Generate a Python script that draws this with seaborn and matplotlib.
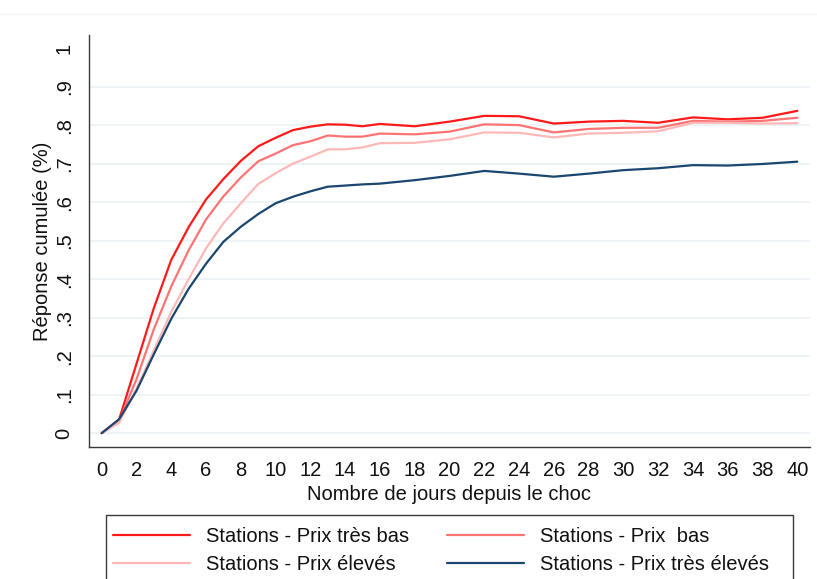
import matplotlib
matplotlib.use("Agg")
import matplotlib.pyplot as plt
from matplotlib.lines import Line2D
from matplotlib.patches import Rectangle
import pandas as pd
import seaborn as sns

# Days after the shock (daily up to day 16, then every two days)
jours = list(range(0, 17)) + list(range(18, 41, 2))

prix_tres_bas = [0.000, 0.035, 0.180, 0.325, 0.450, 0.535, 0.607, 0.660, 0.707,
                 0.745, 0.767, 0.787, 0.796, 0.802, 0.801, 0.797, 0.803,
                 0.797, 0.809, 0.824, 0.823, 0.804, 0.809, 0.811, 0.806,
                 0.820, 0.815, 0.819, 0.837]
prix_bas = [0.000, 0.030, 0.140, 0.270, 0.381, 0.475, 0.555, 0.615, 0.664,
            0.706, 0.726, 0.748, 0.758, 0.773, 0.770, 0.770, 0.778,
            0.776, 0.783, 0.802, 0.800, 0.781, 0.790, 0.793, 0.793,
            0.811, 0.809, 0.811, 0.819]
prix_eleves = [0.000, 0.027, 0.115, 0.215, 0.315, 0.400, 0.480, 0.545, 0.597,
               0.647, 0.675, 0.700, 0.718, 0.737, 0.737, 0.742, 0.753,
               0.754, 0.763, 0.781, 0.780, 0.768, 0.778, 0.780, 0.784,
               0.806, 0.806, 0.804, 0.805]
prix_tres_eleves = [0.000, 0.036, 0.110, 0.205, 0.297, 0.375, 0.440, 0.497, 0.536,
                    0.569, 0.597, 0.614, 0.628, 0.640, 0.643, 0.646, 0.648,
                    0.657, 0.668, 0.681, 0.674, 0.666, 0.674, 0.683, 0.688,
                    0.696, 0.695, 0.699, 0.705]

series = ["Stations - Prix très bas", "Stations - Prix  bas",
          "Stations - Prix élevés", "Stations - Prix très élevés"]
couleurs = ["#ff1a1a", "#ff7373", "#ffb8b8", "#1a476f"]

y_ticks = [0, 0.1, 0.2, 0.3, 0.4, 0.5, 0.6, 0.7, 0.8, 0.9, 1.0]
y_labels = ["0", ".1", ".2", ".3", ".4", ".5", ".6", ".7", ".8", ".9", "1"]
x_ticks = list(range(0, 41, 2))

df = pd.DataFrame({
    "jour": jours * 4,
    "reponse": prix_tres_bas + prix_bas + prix_eleves + prix_tres_eleves,
    "serie": sum([[s] * len(jours) for s in series], []),
})

sns.set_theme(style="white")
plt.rcParams["font.family"] = ["Liberation Sans", "DejaVu Sans"]
FS = 14.5
INK = "#111111"
AXIS = "#3a3a3a"

fig = plt.figure(figsize=(8.17, 5.79), dpi=100)
ax = fig.add_axes([89 / 817, 1 - 447 / 579, (810 - 89) / 817, (447 - 35) / 579])

# horizontal grid lines
for v in y_ticks[:-1]:
    ax.axhline(v, color="#eaf1f3", lw=1.1, zorder=0)

sns.lineplot(data=df, x="jour", y="reponse", hue="serie", hue_order=series,
             palette=dict(zip(series, couleurs)), linewidth=1.6, ax=ax,
             legend=False, zorder=3)

ax.set_xlim(-0.73, 40.73)
ax.set_ylim(-0.036, 1.034)
ax.set_xticks(x_ticks)
ax.set_xticklabels([str(t) for t in x_ticks])
ax.set_yticks(y_ticks)
ax.set_yticklabels(y_labels, rotation=90, va="center")

for side in ["top", "right"]:
    ax.spines[side].set_visible(False)
for side in ["left", "bottom"]:
    ax.spines[side].set_color(AXIS)
    ax.spines[side].set_linewidth(1.0)

ax.tick_params(axis="both", direction="out", width=1.0,
               color=AXIS, labelsize=FS, labelcolor=INK)
ax.tick_params(axis="x", length=5, pad=5)
ax.tick_params(axis="y", length=6.5, pad=4.5)
ax.grid(False)

ax.set_xlabel("Nombre de jours depuis le choc", fontsize=FS, color=INK,
              labelpad=4)
ax.set_ylabel("Réponse cumulée (%)", fontsize=FS, color=INK)
ax.yaxis.set_label_coords(-0.051, 0.5)

# legend box below the plot
fig.add_artist(Rectangle((106 / 817, -0.05), (793 - 106) / 817,
                         1 - 515 / 579 + 0.05, transform=fig.transFigure,
                         facecolor="white", edgecolor=AXIS, lw=1.0, zorder=1))

handles = [Line2D([], [], color=c, lw=1.6) for c in couleurs]
order = [0, 2, 1, 3]
leg = fig.legend([handles[i] for i in order], [series[i] for i in order],
                 ncol=2, loc="upper left",
                 bbox_to_anchor=(113 / 817, 1 - 527 / 579),
                 borderaxespad=0, borderpad=0, fontsize=FS,
                 handlelength=3.8, handletextpad=0.8, columnspacing=1.9,
                 labelspacing=0.45, frameon=False)
leg.set_zorder(2)
for t in leg.get_texts():
    t.set_color(INK)

# faint outer frame line near the top edge
fig.add_artist(Line2D([0, 1], [1 - 14 / 579, 1 - 14 / 579], color="#f2f2f2",
                      lw=1.0, transform=fig.transFigure))

fig.savefig("out.png", dpi=100)
